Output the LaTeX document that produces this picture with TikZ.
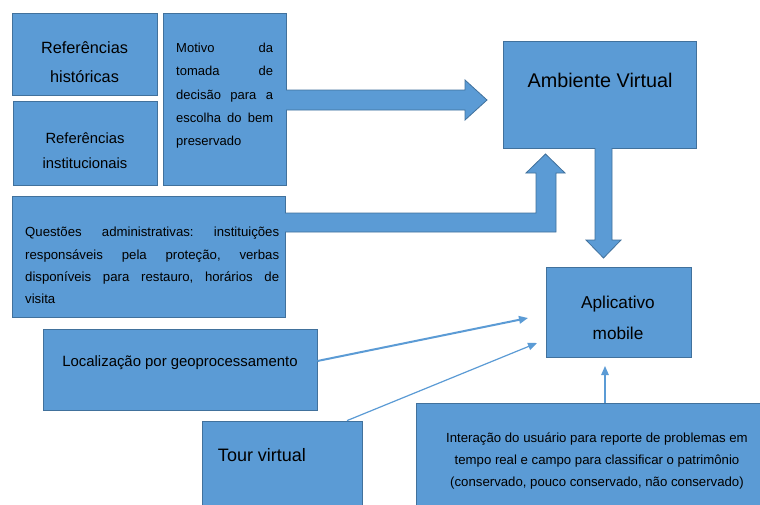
\documentclass[tikz,border=0pt]{standalone}
\usepackage{fontspec}
\setmainfont{Liberation Sans}
\usetikzlibrary{arrows.meta,calc}
\definecolor{boxfill}{HTML}{5B9BD5}
\definecolor{boxline}{HTML}{41719C}
\hyphenpenalty=10000
\exhyphenpenalty=10000
\frenchspacing
\begin{document}
\begin{tikzpicture}[x=1pt,y=-1pt,
  box/.style={draw=boxline, fill=boxfill, line width=0.8pt, inner sep=0pt},
  txt/.style={inner sep=0pt, text=black},
  blockarrow/.style={draw=boxline, fill=boxfill, line width=0.8pt, line join=miter},
  thin/.style={draw=boxfill, -{Triangle[length=9pt,width=7.5pt]}}]
\clip (0,0) rectangle (760,504);
\fill[white] (0,0) rectangle (760,504);

% boxes
\node[box, minimum width=145pt, minimum height=82pt] (hist) at (84.5,54) {};
\node[box, minimum width=144pt, minimum height=84pt] (inst) at (85,143) {};
\node[box, minimum width=123pt, minimum height=172pt] (motivo) at (224.5,99) {};
\node[box, minimum width=193pt, minimum height=107pt] (amb) at (599.5,94.5) {};
\node[box, minimum width=273pt, minimum height=121pt] (quest) at (148.5,256.5) {};
\node[box, minimum width=145pt, minimum height=90pt] (app) at (618.5,312) {};
\node[box, minimum width=274pt, minimum height=81pt] (loc) at (180,369.5) {};
\node[box, minimum width=160pt, minimum height=109pt] (tour) at (282,475.5) {};
\node[box, minimum width=354pt, minimum height=127pt] (inter) at (593,466.5) {};

% texts
\node[txt, align=center, font=\fontsize{16.3}{29}\selectfont] (histt) at (84.5,62.5) {Referências\\históricas};
\node[txt, align=center, font=\fontsize{14.8}{25}\selectfont] (instt) at (85,151) {Referências\\institucionais};
\node[txt, anchor=north west, text width=97pt, align=justify, font=\fontsize{13}{23.3}\selectfont] (motivot) at (176,43)
  {Motivo da\linebreak tomada de\linebreak decisão para a\linebreak escolha do bem\linebreak preservado};
\node[txt, anchor=north west, text width=254pt, align=justify, font=\fontsize{13.2}{22.4}\selectfont] (questt) at (25,227)
  {Questões administrativas: instituições\linebreak responsáveis pela proteção, verbas\linebreak disponíveis para restauro, horários de\linebreak visita};
\node[txt, font=\fontsize{19.8}{24}\selectfont] (ambt) at (600,80) {Ambiente Virtual};
\node[txt, align=center, font=\fontsize{17.2}{31}\selectfont] (appt) at (618,317.5) {Aplicativo\\mobile};
\node[txt, font=\fontsize{14.9}{18}\selectfont] (loct) at (180,363) {Localização por geoprocessamento};
\node[txt, font=\fontsize{18}{22}\selectfont] (tourt) at (262,455) {Tour virtual};
\node[txt, align=center, font=\fontsize{13.2}{22.2}\selectfont] (intert) at (597,461)
  {Interação do usuário para reporte de problemas em\\tempo real e campo para classificar o patrimônio\\(conservado, pouco conservado, não conservado)};

% block arrows
\draw[blockarrow] (286,90) -- (465,90) -- (465,80) -- (487,100) -- (465,120) -- (465,110) -- (286,110);
\draw[blockarrow] (595,148) -- (595,240) -- (586,240) -- (603.5,258) -- (621,240) -- (612,240) -- (612,148);
\draw[blockarrow] (285,213) -- (536,213) -- (536,173) -- (526,173) -- (545.5,154) -- (565,173) -- (556,173) -- (556,232) -- (285,232);

% thin arrows
\coordinate (e1) at (528,318);
\coordinate (e2) at (537,343);
\coordinate (e3) at (605,366);
\draw[thin, line width=2pt] ([yshift=8.5pt]loc.east) -- (e1);
\draw[thin, line width=1.2pt] ([xshift=65pt]tour.north) -- (e2);
\draw[thin, line width=1.3pt] ([xshift=12pt]inter.north) -- (e3);
\end{tikzpicture}
\end{document}
